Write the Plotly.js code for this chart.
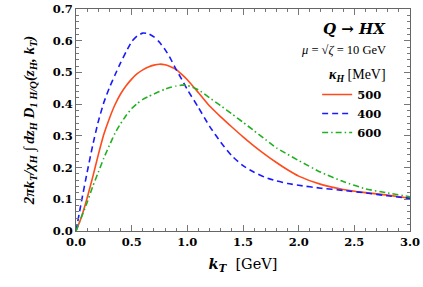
<!DOCTYPE html>
<html><head><meta charset="utf-8">
<script src="https://cdn.plot.ly/plotly-3.0.1.min.js"></script>
<style>html,body{margin:0;padding:0;background:#fff}#plot{width:423px;height:287px}</style>
</head><body><div id="plot"></div>
<script>
// kT [GeV] and values for each kappa_H [MeV]
const kT = [0,0.05,0.1,0.15,0.2,0.25,0.3,0.35,0.4,0.45,0.5,0.55,0.6,0.65,0.7,0.75,0.8,0.85,0.9,0.95,1.0,1.1,1.2,1.3,1.4,1.5,1.6,1.7,1.8,1.9,2.0,2.2,2.4,2.6,2.8,3.0];
const val500 = [0,0.045,0.104,0.17,0.24,0.305,0.355,0.398,0.432,0.458,0.479,0.496,0.508,0.517,0.523,0.526,0.524,0.518,0.509,0.494,0.477,0.436,0.394,0.36,0.328,0.297,0.268,0.241,0.216,0.193,0.173,0.147,0.131,0.121,0.113,0.103];
const val400 = [0,0.095,0.185,0.27,0.345,0.405,0.452,0.492,0.53,0.565,0.597,0.615,0.624,0.622,0.612,0.595,0.572,0.543,0.509,0.478,0.446,0.389,0.33,0.28,0.237,0.206,0.185,0.169,0.158,0.15,0.144,0.135,0.128,0.12,0.111,0.103];
const val600 = [0,0.045,0.09,0.14,0.185,0.23,0.27,0.308,0.338,0.364,0.386,0.402,0.415,0.424,0.432,0.44,0.447,0.453,0.457,0.46,0.459,0.445,0.42,0.395,0.369,0.343,0.316,0.289,0.262,0.242,0.222,0.185,0.156,0.133,0.12,0.108];
const seriesNames = ['500','400','600'];
const xTicks = [0,0.5,1,1.5,2,2.5,3];
const xTickText = ['0.0','0.5','1.0','1.5','2.0','2.5','3.0'];
const yTicks = [0,0.1,0.2,0.3,0.4,0.5,0.6,0.7];
const yTickText = ['0.0','0.1','0.2','0.3','0.4','0.5','0.6','0.7'];

const serif = 'DejaVu Serif';
const traces = [
  {x:kT,y:val500,name:seriesNames[0],mode:'lines',line:{color:'#ff4a1c',width:1.6,shape:'spline',smoothing:0.5}},
  {x:kT,y:val400,name:seriesNames[1],mode:'lines',line:{color:'#1a1aff',width:1.6,dash:'6px,4px',shape:'spline',smoothing:0.5}},
  {x:kT,y:val600,name:seriesNames[2],mode:'lines',line:{color:'#22b022',width:1.6,dash:'6px,3px,1.5px,3px',shape:'spline',smoothing:0.5}}
];
const axisCommon = {
  showgrid:false, zeroline:false, showline:true, linecolor:'#666', linewidth:1,
  mirror:'allticks', ticks:'inside', ticklen:6, tickcolor:'#777', tickwidth:1,
  tickfont:{family:serif, size:11.5, color:'#000', weight:'bold'}
};
const layout = {
  width:423, height:287,
  margin:{l:76, r:13, t:9, b:56},
  paper_bgcolor:'#fff', plot_bgcolor:'#fff',
  showlegend:true,
  legend:{x:0.722, xanchor:'left', y:0.68, yanchor:'top', bgcolor:'rgba(0,0,0,0)',
          font:{family:serif, size:11.5, color:'#000', weight:'bold'}, tracegroupgap:0, itemwidth:30},
  xaxis:Object.assign({}, axisCommon, {range:[0,3], tickvals:xTicks, ticktext:xTickText,
    minor:{dtick:0.1, ticklen:3, ticks:'inside', tickcolor:'#777'},
    title:{text:'<b><i>k</i><sub><i>T</i></sub></b>  [GeV]', font:{family:serif, size:14.5, color:'#000'}, standoff:11}}),
  yaxis:Object.assign({}, axisCommon, {range:[0,0.7], tickvals:yTicks, ticktext:yTickText,
    minor:{dtick:0.02, ticklen:3, ticks:'inside', tickcolor:'#777'},
    title:{text:'<b><i>2πk<sub>T</sub>/χ<sub>H</sub> ∫ dz<sub>H</sub> D<sub>1 H/Q</sub>(z<sub>H</sub>, k<sub>T</sub>)</i></b>', font:{family:'Liberation Serif', size:15, color:'#000'}, standoff:14}}),
  annotations:[
    {xref:'paper', yref:'paper', x:0.935, y:0.91, xanchor:'right', yanchor:'middle', showarrow:false,
     text:'<b><i>Q</i> → <i>HX</i></b>', font:{family:serif, size:15, color:'#000'}},
    {xref:'paper', yref:'paper', x:0.935, y:0.815, xanchor:'right', yanchor:'middle', showarrow:false,
     text:'<i>μ</i> = √<i>ζ</i> = 10 GeV', font:{family:'Liberation Serif', size:12.5, color:'#000'}},
    {xref:'paper', yref:'paper', x:0.935, y:0.70, xanchor:'right', yanchor:'middle', showarrow:false,
     text:'<b><i>κ<sub>H</sub></i></b> [MeV]', font:{family:'Liberation Serif', size:14, color:'#000'}}
  ]
};
Plotly.newPlot('plot', traces, layout, {staticPlot:true, displayModeBar:false});
</script></body></html>
